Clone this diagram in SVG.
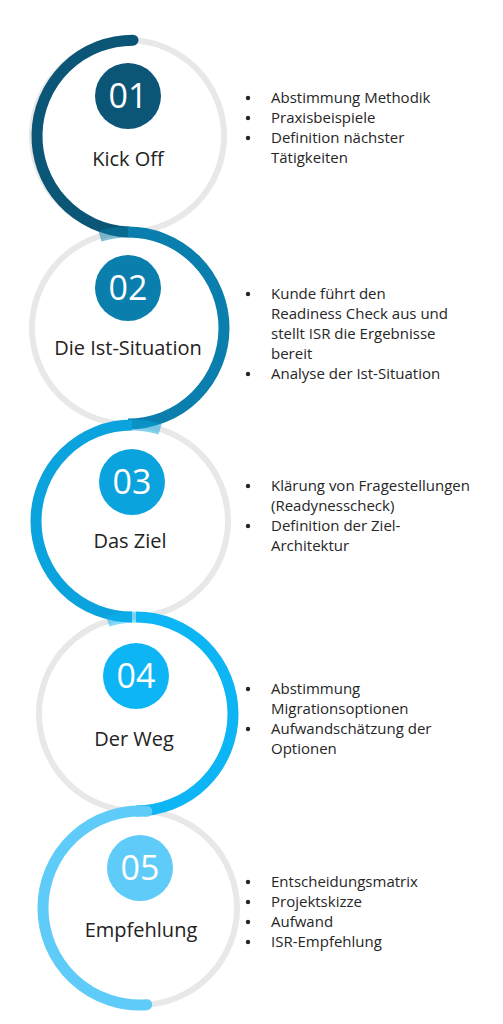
<svg xmlns="http://www.w3.org/2000/svg" width="503" height="1024" viewBox="0 0 503 1024">
  <style>
    .ring { fill: none; stroke: #E8E8E8; stroke-width: 6; }
    .arc { fill: none; stroke-width: 11; }
    .ext { fill: none; stroke-width: 11; opacity: 0.5; }
    .num { font-family: "Open Sans", "Liberation Sans", sans-serif; font-size: 34px; fill: #FFFFFF; text-anchor: middle; }
    .lbl { font-family: "Open Sans", "Liberation Sans", sans-serif; font-size: 20px; fill: #222222; text-anchor: middle; }
    .txt { font-family: "Open Sans", "Liberation Sans", sans-serif; font-size: 15px; fill: #262626; }
    .bul { fill: #262626; }
  </style>
  <rect width="503" height="1024" fill="#FFFFFF"/>

  <g id="connectors">
    <circle class="ring" cx="128" cy="136" r="96"/>
    <circle class="ring" cx="128" cy="328" r="96"/>
    <circle class="ring" cx="132" cy="521" r="96"/>
    <circle class="ring" cx="136" cy="714" r="97"/>
    <circle class="ring" cx="140" cy="908" r="97"/>

    <path class="arc" stroke="#0B5576" stroke-linecap="round" d="M133.02,40.13 A96,96 0 0 0 128,232"/>
    <path class="arc" stroke="#0A7EAC" d="M128,232 A96,96 0 0 1 128,424"/>
    <path class="ext" stroke="#0A7EAC" d="M99.93,236.2 A96,96 0 0 1 128,232"/>
    <path class="arc" stroke="#0AA3DD" d="M132,425 A96,96 0 0 0 132,617"/>
    <path class="ext" stroke="#0AA3DD" d="M160.07,429.2 A96,96 0 0 0 132,425"/>
    <path class="arc" stroke="#0DB5F5" d="M136,617 A97,97 0 0 1 136,811"/>
    <path class="ext" stroke="#0DB5F5" d="M107.64,621.24 A97,97 0 0 1 136,617"/>
    <path class="arc" stroke="#5FCBF9" stroke-linecap="round" d="M146.77,811.24 A97,97 0 1 0 146.77,1004.76"/>
  </g>

  <g id="node-01">
    <circle cx="128" cy="96" r="33" fill="#0B5576"/>
    <text class="num" x="128" y="108">01</text>
    <text class="lbl" x="128" y="166">Kick Off</text>
    <circle class="bul" cx="248" cy="98" r="2.2"/>
    <circle class="bul" cx="248" cy="118" r="2.2"/>
    <circle class="bul" cx="248" cy="138" r="2.2"/>
    <text class="txt" x="271" y="103">Abstimmung Methodik</text>
    <text class="txt" x="271" y="123">Praxisbeispiele</text>
    <text class="txt" x="271" y="143">Definition nächster</text>
    <text class="txt" x="271" y="163">Tätigkeiten</text>
  </g>

  <g id="node-02">
    <circle cx="128" cy="288" r="33" fill="#0A7EAC"/>
    <text class="num" x="128" y="300">02</text>
    <text class="lbl" x="128" y="355">Die Ist-Situation</text>
    <circle class="bul" cx="248" cy="294" r="2.2"/>
    <circle class="bul" cx="248" cy="374" r="2.2"/>
    <text class="txt" x="271" y="299">Kunde führt den</text>
    <text class="txt" x="271" y="319">Readiness Check aus und</text>
    <text class="txt" x="271" y="339">stellt ISR die Ergebnisse</text>
    <text class="txt" x="271" y="359">bereit</text>
    <text class="txt" x="271" y="379">Analyse der Ist-Situation</text>
  </g>

  <g id="node-03">
    <circle cx="132" cy="482" r="33" fill="#0AA3DD"/>
    <text class="num" x="132" y="494">03</text>
    <text class="lbl" x="130" y="548">Das Ziel</text>
    <circle class="bul" cx="248" cy="486" r="2.2"/>
    <circle class="bul" cx="248" cy="526" r="2.2"/>
    <text class="txt" x="271" y="491">Klärung von Fragestellungen</text>
    <text class="txt" x="271" y="511">(Readynesscheck)</text>
    <text class="txt" x="271" y="531">Definition der Ziel-</text>
    <text class="txt" x="271" y="551">Architektur</text>
  </g>

  <g id="node-04">
    <circle cx="136" cy="676" r="33" fill="#0DB5F5"/>
    <text class="num" x="136" y="688">04</text>
    <text class="lbl" x="134" y="746">Der Weg</text>
    <circle class="bul" cx="248" cy="689" r="2.2"/>
    <circle class="bul" cx="248" cy="729" r="2.2"/>
    <text class="txt" x="271" y="694">Abstimmung</text>
    <text class="txt" x="271" y="714">Migrationsoptionen</text>
    <text class="txt" x="271" y="734">Aufwandschätzung der</text>
    <text class="txt" x="271" y="754">Optionen</text>
  </g>

  <g id="node-05">
    <circle cx="140" cy="868" r="33" fill="#5FCBF9"/>
    <text class="num" x="140" y="880">05</text>
    <text class="lbl" x="141" y="937">Empfehlung</text>
    <circle class="bul" cx="248" cy="882" r="2.2"/>
    <circle class="bul" cx="248" cy="902" r="2.2"/>
    <circle class="bul" cx="248" cy="922" r="2.2"/>
    <circle class="bul" cx="248" cy="942" r="2.2"/>
    <text class="txt" x="271" y="887">Entscheidungsmatrix</text>
    <text class="txt" x="271" y="907">Projektskizze</text>
    <text class="txt" x="271" y="927">Aufwand</text>
    <text class="txt" x="271" y="947">ISR-Empfehlung</text>
  </g>
</svg>
